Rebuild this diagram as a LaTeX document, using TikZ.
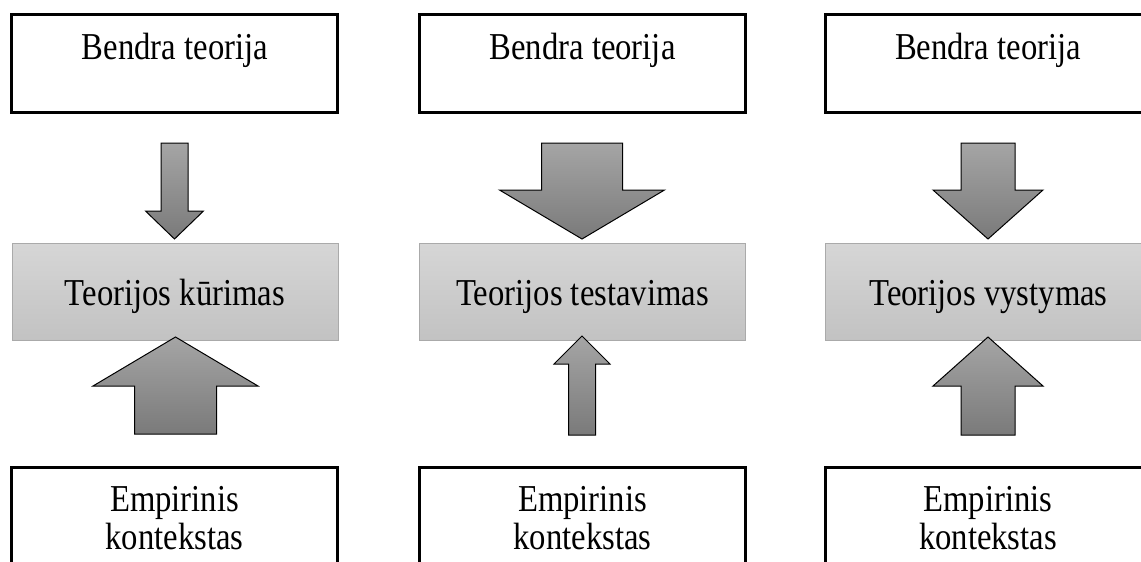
\documentclass[tikz,border=0pt]{standalone}
\usepackage{graphicx}
\usepackage{fontspec}
\setmainfont{Liberation Serif}
\newcommand\sxtxt[1]{\scalebox{0.86}[1]{#1}}
\begin{document}
\begin{tikzpicture}[x=1pt,y=-1pt,
  whitebox/.style={draw=black, line width=3pt, fill=white, minimum width=326pt, minimum height=98pt, inner sep=0pt},
  graybox/.style={draw={rgb,255:red,170;green,170;blue,170}, line width=1pt, top color={rgb,255:red,214;green,214;blue,214}, bottom color={rgb,255:red,194;green,194;blue,194}, minimum width=326pt, minimum height=97pt, inner sep=0pt},
  txt/.style={font=\fontsize{38}{44}\selectfont, inner sep=0pt, anchor=base},
  blockarrow/.style={draw=black, line width=1pt, line join=miter, top color={rgb,255:red,165;green,165;blue,165}, bottom color={rgb,255:red,122;green,122;blue,122}}
]
\useasboundingbox (0,0) rectangle (1141,562);
\clip (0,0) rectangle (1141,562);
\newcommand\myblockarrow[6]{%
  \path[blockarrow] (#1-#5,#2) -- (#1-#5,#3) -- (#1-#6,#3) -- (#1,#4) -- (#1+#6,#3) -- (#1+#5,#3) -- (#1+#5,#2) -- cycle;}

% column 1
\node[whitebox] (top1) at (174.5,63.5) {};
\node[txt] (top1t) at (175,59) {\sxtxt{Bendra teorija}};
\node[graybox] (mid1) at (175,292) {};
\node[txt] (mid1t) at (175,305) {\sxtxt{Teorijos kūrimas}};
\node[whitebox] (bot1) at (174.5,516.5) {};
\node[txt] (bot1a) at (174.5,511) {\sxtxt{Empirinis}};
\node[txt] (bot1b) at (174.5,549) {\sxtxt{kontekstas}};
\myblockarrow{174.5}{143}{211}{239}{13.5}{29}
\myblockarrow{175.5}{434}{386}{337}{41}{82.5}

% column 2
\node[whitebox] (top2) at (582.5,63.5) {};
\node[txt] (top2t) at (582.5,59) {\sxtxt{Bendra teorija}};
\node[graybox] (mid2) at (582.5,292) {};
\node[txt] (mid2t) at (582.5,305) {\sxtxt{Teorijos testavimas}};
\node[whitebox] (bot2) at (582.5,516.5) {};
\node[txt] (bot2a) at (582.5,511) {\sxtxt{Empirinis}};
\node[txt] (bot2b) at (582.5,549) {\sxtxt{kontekstas}};
\myblockarrow{582}{143}{190}{239}{40.5}{82.5}
\myblockarrow{582}{435}{364}{336}{13.5}{28}

% column 3
\node[whitebox] (top3) at (988,63.5) {};
\node[txt] (top3t) at (988,59) {\sxtxt{Bendra teorija}};
\node[graybox] (mid3) at (988.5,292) {};
\node[txt] (mid3t) at (988.5,305) {\sxtxt{Teorijos vystymas}};
\node[whitebox] (bot3) at (988,516.5) {};
\node[txt] (bot3a) at (988,511) {\sxtxt{Empirinis}};
\node[txt] (bot3b) at (988,549) {\sxtxt{kontekstas}};
\myblockarrow{988}{143}{190}{239}{27}{55}
\myblockarrow{988}{435}{386}{337}{27}{55}
\end{tikzpicture}
\end{document}
